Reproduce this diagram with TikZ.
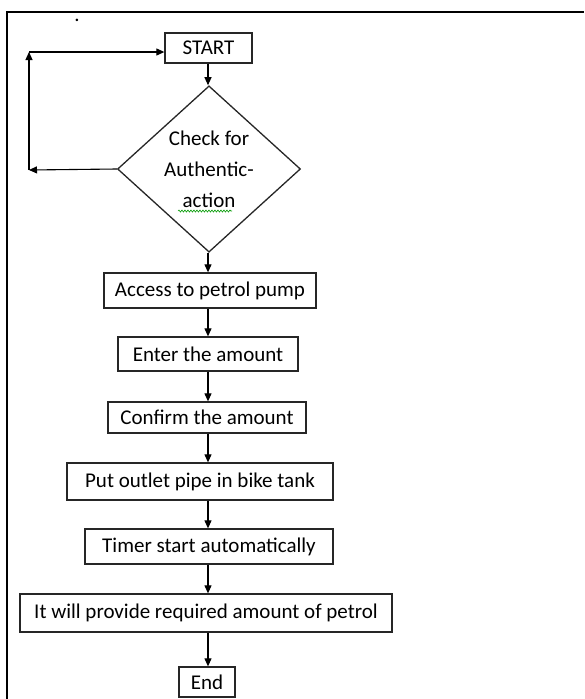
\documentclass[tikz,border=0pt]{standalone}
\usepackage{fontspec}
\setmainfont{Carlito}
\usepackage{tikz}
\usetikzlibrary{positioning, shapes.geometric, arrows.meta, calc, decorations.pathmorphing}

\begin{document}
\begin{tikzpicture}[x=1pt, y=-1pt,
  every node/.style={font=\fontsize{21}{25}\selectfont},
  stepbox/.style={draw=black!85, line width=1.3pt, inner sep=0pt},
  arr/.style={line width=1.1pt, -{Triangle[length=8pt, width=7pt]}}]
\useasboundingbox (0,0) rectangle (584,699);
% Frame (left and top edge only)
\draw[line width=2.5pt] (7,699) -- (7,12) -- (584,12);
\node[inner sep=0pt] (dot) at (77,20) {.};
% Steps
\node[stepbox, minimum width=87pt, minimum height=30pt] (start) at (208.5,48) {START};
\node[stepbox, diamond, minimum width=183pt, minimum height=148pt, align=center,
      font=\fontsize{21}{31}\selectfont] (check) at (209,169) {Check for\\Authentic-\\action};
\node[stepbox, minimum width=212pt, minimum height=35pt] (access) at (210,290.5) {Access to petrol pump};
\node[stepbox, minimum width=180pt, minimum height=34pt] (enter) at (208,354) {Enter the amount};
\node[stepbox, minimum width=198pt, minimum height=31pt] (confirm) at (207,417.5) {Confirm the amount};
\node[stepbox, minimum width=266pt, minimum height=37pt] (put) at (200,481.5) {Put outlet pipe in bike tank};
\node[stepbox, minimum width=248pt, minimum height=35pt] (timer) at (209,546.5) {Timer start automatically};
\node[stepbox, minimum width=372pt, minimum height=38pt] (provide) at (206,613) {It will provide required amount of petrol};
\node[stepbox, minimum width=56pt, minimum height=30pt] (end) at (207,682) {End};
% Spell-check underline
\draw[green!60!black, line width=0.6pt, decorate, decoration={snake, amplitude=1pt, segment length=3pt}]
  (178,211) -- (232,211);
% Main flow
\coordinate (col) at (208,0);
\foreach \a/\b in {start/check, check/access, access/enter, enter/confirm,
                   confirm/put, put/timer, timer/provide, provide/end} {
  \draw[arr] (col |- \a.south) -- (col |- \b.north);
}
% Loop back to START
\coordinate (lp1) at (29,170);
\coordinate (lp2) at (29,52);
\draw[arr] (check.west) -- (lp1);
\draw[arr] (lp1) -- (lp2);
\draw[arr] (lp2) -- (start.west |- lp2);
\end{tikzpicture}
\end{document}
